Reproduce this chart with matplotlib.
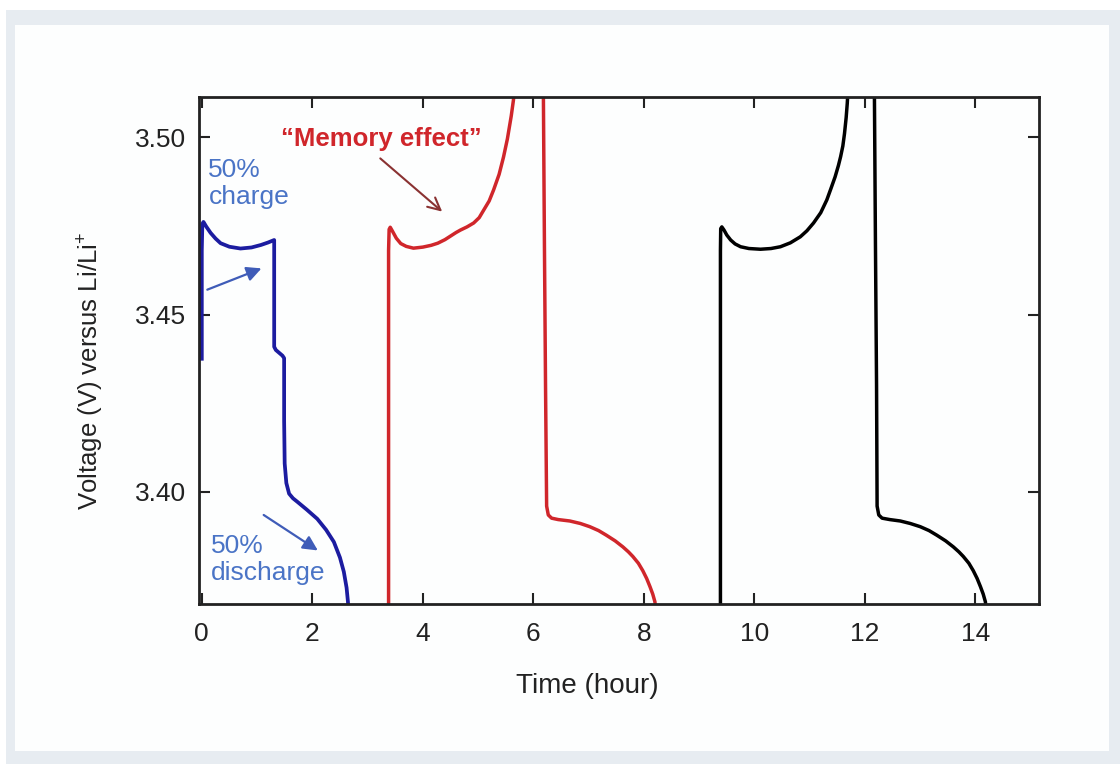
import matplotlib
matplotlib.use("Agg")
import matplotlib.pyplot as plt
from matplotlib.patches import Rectangle

plt.rcParams['font.family'] = ['Liberation Sans', 'DejaVu Sans']
plt.rcParams['mathtext.fontset'] = 'custom'
plt.rcParams['mathtext.rm'] = 'Liberation Sans'

# blue: 50% charge then 50% discharge (one continuous trace)
blue_t = [0.0, 0.0, 0.01, 0.03, 0.08, 0.16, 0.25, 0.34, 0.5, 0.7, 0.9, 1.07, 1.2, 1.31,
          1.31, 1.34, 1.40, 1.46, 1.49, 1.49, 1.50, 1.53, 1.58, 1.65, 1.73, 1.9, 2.09,
          2.25, 2.39, 2.5, 2.57, 2.62, 2.645, 2.655]
blue_v = [3.437, 3.468, 3.4755, 3.4761, 3.4748, 3.4730, 3.4714, 3.4701, 3.4691, 3.4686, 3.4689, 3.4696, 3.4703, 3.4710,
          3.4409, 3.4400, 3.4392, 3.4384, 3.4377, 3.420, 3.408, 3.4025, 3.3995, 3.3982, 3.3972, 3.3950, 3.3924,
          3.3893, 3.3859, 3.3815, 3.3775, 3.3730, 3.3690, 3.366]

# red: full charge after partial cycle ("memory effect" bump), then discharge
red_chg_t = [3.38, 3.38, 3.39, 3.41, 3.45, 3.52, 3.6, 3.7, 3.83, 4.0, 4.15, 4.27, 4.4, 4.5,
             4.6, 4.68, 4.8, 4.92, 5.02, 5.10, 5.20, 5.28, 5.38, 5.46, 5.53, 5.60, 5.64, 5.66]
red_chg_v = [3.366, 3.468, 3.4740, 3.4746, 3.4735, 3.4715, 3.4700, 3.4692, 3.4687, 3.4690, 3.4695, 3.4701, 3.4711, 3.4721,
             3.4731, 3.4738, 3.4747, 3.4758, 3.4773, 3.4794, 3.4820, 3.4851, 3.4895, 3.4944, 3.4995, 3.5060, 3.5105, 3.515]
red_dis_t = [6.18, 6.20, 6.22, 6.24, 6.27, 6.33, 6.45, 6.66, 6.85, 7.02, 7.18, 7.32, 7.48,
             7.62, 7.72, 7.80, 7.90, 7.98, 8.05, 8.11, 8.16, 8.20, 8.215]
red_dis_v = [3.515, 3.470, 3.430, 3.3960, 3.3935, 3.3926, 3.3922, 3.3918, 3.3911, 3.3902, 3.3891, 3.3878, 3.3862,
             3.3845, 3.3831, 3.3818, 3.3799, 3.3778, 3.3756, 3.3733, 3.3712, 3.3690, 3.366]

# black: reference full cycle
blk_chg_t = [9.385, 9.385, 9.39, 9.41, 9.45, 9.5, 9.57, 9.65, 9.75, 9.9, 10.11, 10.3, 10.47, 10.65,
             10.83, 10.95, 11.07, 11.2, 11.31, 11.38, 11.46, 11.52, 11.56, 11.60, 11.63, 11.66, 11.68, 11.70]
blk_chg_v = [3.366, 3.468, 3.4742, 3.4747, 3.4738, 3.4724, 3.4710, 3.4699, 3.4691, 3.4686, 3.4684, 3.4686, 3.4691, 3.4702,
             3.4719, 3.4736, 3.4758, 3.4787, 3.4823, 3.4853, 3.4888, 3.4920, 3.4945, 3.4975, 3.5010, 3.5055, 3.5095, 3.515]
blk_dis_t = [12.17, 12.19, 12.21, 12.22, 12.25, 12.31, 12.45, 12.64, 12.82, 13.0, 13.16, 13.30, 13.46,
             13.60, 13.70, 13.78, 13.88, 13.96, 14.03, 14.09, 14.14, 14.18, 14.195]
blk_dis_v = [3.515, 3.470, 3.430, 3.3960, 3.3935, 3.3926, 3.3922, 3.3918, 3.3911, 3.3902, 3.3891, 3.3878, 3.3862,
             3.3845, 3.3831, 3.3818, 3.3799, 3.3778, 3.3756, 3.3733, 3.3712, 3.3690, 3.366]

x_ticks = [0, 2, 4, 6, 8, 10, 12, 14]
y_ticks = [3.40, 3.45, 3.50]
y_ticklabels = ['3.40', '3.45', '3.50']

navy = '#1c1ca0'
red = '#d0262b'
note_blue = '#4a74c6'

fig = plt.figure(figsize=(11.2, 7.64), dpi=100)
fig.patch.set_facecolor('white')
# light frame around the panel
fig.patches.append(Rectangle((0.0054, 0.0), 0.9946, 0.987, transform=fig.transFigure,
                             facecolor='#e7ecf1', edgecolor='none', zorder=-2))
fig.patches.append(Rectangle((0.0134, 0.0170), 0.977, 0.950, transform=fig.transFigure,
                             facecolor='#fdfefe', edgecolor='none', zorder=-1))

ax = fig.add_axes([0.1777, 0.2094, 0.750, 0.6636])
ax.patch.set_alpha(0)

style = dict(lw=2.5, solid_joinstyle='round', solid_capstyle='butt')
ax.plot(blue_t, blue_v, color=navy, **dict(style, lw=2.7))
ax.plot(red_chg_t, red_chg_v, color=red, **style)
ax.plot(red_dis_t, red_dis_v, color=red, **style)
ax.plot(blk_chg_t, blk_chg_v, color='black', **style)
ax.plot(blk_dis_t, blk_dis_v, color='black', **style)

ax.set_xlim(-0.05, 15.15)
ax.set_ylim(3.3684, 3.5113)
ax.set_xticks(x_ticks)
ax.set_yticks(y_ticks)
ax.set_yticklabels(y_ticklabels)
ax.tick_params(direction='in', length=8, width=1.5, top=True, right=True,
               labelsize=19, colors='#222222')
ax.tick_params(axis='x', pad=13)
ax.tick_params(axis='y', pad=9)
for s in ax.spines.values():
    s.set_linewidth(2.0)
    s.set_color('#222222')

ax.set_xlabel('Time (hour)', fontsize=20, color='#222222')
ax.xaxis.set_label_coords(0.4625, -0.136)
ax.set_ylabel('Voltage (V) versus Li/Li$^{+}$', fontsize=18.5, color='#222222')
ax.yaxis.set_label_coords(-0.112, 0.46)

ax.text(0.12, 3.4870, '50%\ncharge', fontsize=19, color=note_blue,
        ha='left', va='center', linespacing=1.15)
ax.annotate('', xy=(1.08, 3.4630), xytext=(0.10, 3.4570),
            arrowprops=dict(arrowstyle='-|>', color='#3f5cb8', lw=1.6,
                            mutation_scale=22, shrinkA=0, shrinkB=0))
ax.text(0.17, 3.3810, '50%\ndischarge', fontsize=19, color=note_blue,
        ha='left', va='center', linespacing=1.15)
ax.annotate('', xy=(2.10, 3.3835), xytext=(1.12, 3.3935),
            arrowprops=dict(arrowstyle='-|>', color='#3f5cb8', lw=1.6,
                            mutation_scale=22, shrinkA=0, shrinkB=0))
ax.text(3.24, 3.4995, '\u201cMemory effect\u201d', fontsize=18.5, color=red,
        fontweight='bold', ha='center', va='center')
ax.annotate('', xy=(4.35, 3.4790), xytext=(3.23, 3.4940),
            arrowprops=dict(arrowstyle='->', color='#8a3232', lw=1.5,
                            mutation_scale=22, shrinkA=0, shrinkB=0))

fig.savefig('out.png', dpi=100)
